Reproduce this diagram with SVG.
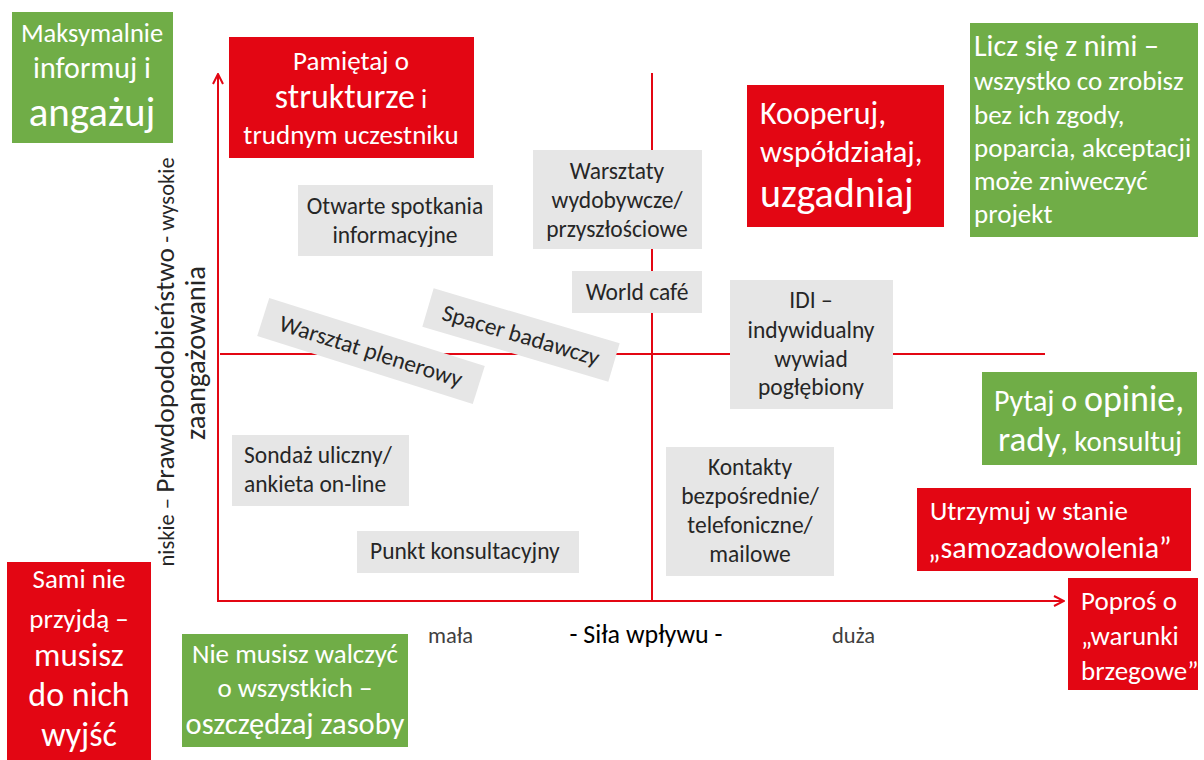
<svg xmlns="http://www.w3.org/2000/svg" width="1204" height="760" viewBox="0 0 1204 760">
<style>
text{font-family:Carlito,Lato,"Liberation Sans",sans-serif;}
.red{fill:#e30613;}
.green{fill:#70ad47;}
.gray{fill:#e6e6e6;}
.w{fill:#ffffff;font-size:27px;}
.d{fill:#262626;font-size:23.5px;}
.c{text-anchor:middle;}
.ax{stroke:#e30613;stroke-width:2;fill:none;}
.lbl{fill:#404040;font-size:22.5px;}
</style>
<defs>
<marker id="arr" viewBox="0 0 12 12" refX="11" refY="6" markerWidth="12" markerHeight="12" markerUnits="userSpaceOnUse" orient="auto">
<path d="M1,1 L11,6 L1,11" fill="none" stroke="#e30613" stroke-width="2"/>
</marker>
</defs>
<g id="connectors">
<line class="ax" x1="218" y1="601" x2="218" y2="74" marker-end="url(#arr)"/>
<line class="ax" x1="217" y1="601" x2="1064" y2="601" marker-end="url(#arr)"/>
<line class="ax" x1="652" y1="73" x2="652" y2="601"/>
<line class="ax" x1="220" y1="354" x2="1045" y2="354"/>
</g>
<g id="axis-labels">
<text class="lbl" x="428" y="643">mała</text>
<text x="646" y="643" class="c" style="font-size:26px;fill:#000">- Siła wpływu -</text>
<text class="lbl" x="832" y="643">duża</text>
<text transform="translate(174,362) rotate(-90)" class="c" style="fill:#262626;font-size:22.5px">niskie – <tspan style="font-size:27.5px">Prawdopodobieństwo</tspan> - wysokie</text>
<text transform="translate(205,353) rotate(-90)" class="c" style="fill:#262626;font-size:28.5px">zaangażowania</text>
</g>
<g id="n-maksymalnie">
<rect class="green" x="12" y="12" width="161" height="131"/>
<text class="w c" x="92" y="42" style="font-size:26.5px">Maksymalnie</text>
<text class="w c" x="92" y="78" style="font-size:30px">informuj i</text>
<text class="w c" x="92" y="126" style="font-size:41px">angażuj</text>
</g>
<g id="n-pamietaj">
<rect class="red" x="229" y="37" width="245" height="121"/>
<text class="w c" x="351" y="70">Pamiętaj o</text>
<text class="w c" x="351" y="108"><tspan style="font-size:34px">strukturze</tspan> i</text>
<text class="w c" x="351" y="144">trudnym uczestniku</text>
</g>
<g id="n-kooperuj">
<rect class="red" x="747" y="85" width="197" height="142"/>
<text class="w" x="760" y="124" style="font-size:32px">Kooperuj,</text>
<text class="w" x="760" y="162" style="font-size:31px">współdziałaj,</text>
<text class="w" x="760" y="207" style="font-size:40px">uzgadniaj</text>
</g>
<g id="n-licz">
<rect class="green" x="970" y="23" width="228" height="214"/>
<text class="w" x="974" y="56" style="font-size:30px">Licz się z nimi –</text>
<text class="w" x="974" y="90">wszystko co zrobisz</text>
<text class="w" x="974" y="124">bez ich zgody,</text>
<text class="w" x="974" y="157">poparcia, akceptacji</text>
<text class="w" x="974" y="190">może zniweczyć</text>
<text class="w" x="974" y="223">projekt</text>
</g>
<g id="n-warsztaty">
<rect class="gray" x="533" y="150" width="169" height="99"/>
<text class="d c" x="617" y="179">Warsztaty</text>
<text class="d c" x="617" y="208">wydobywcze/</text>
<text class="d c" x="617" y="237">przyszłościowe</text>
</g>
<g id="n-otwarte">
<rect class="gray" x="298" y="185" width="195" height="71"/>
<text class="d c" x="395" y="214">Otwarte spotkania</text>
<text class="d c" x="395" y="243">informacyjne</text>
</g>
<g id="n-world">
<rect class="gray" x="572" y="271" width="130" height="42"/>
<text class="d c" x="637" y="300">World café</text>
</g>
<g id="n-plenerowy" transform="translate(371,351) rotate(17.5)">
<rect class="gray" x="-113" y="-20" width="226" height="40"/>
<text class="d c" x="0" y="8">Warsztat plenerowy</text>
</g>
<g id="n-spacer" transform="translate(521,335) rotate(16.5)">
<rect class="gray" x="-97" y="-20" width="194" height="40"/>
<text class="d c" x="0" y="8">Spacer badawczy</text>
</g>
<g id="n-idi">
<rect class="gray" x="730" y="280" width="163" height="129"/>
<text class="d c" x="811" y="308">IDI –</text>
<text class="d c" x="811" y="338">indywidualny</text>
<text class="d c" x="811" y="367">wywiad</text>
<text class="d c" x="811" y="395">pogłębiony</text>
</g>
<g id="n-kontakty">
<rect class="gray" x="666" y="447" width="168" height="129"/>
<text class="d c" x="750" y="475">Kontakty</text>
<text class="d c" x="750" y="504">bezpośrednie/</text>
<text class="d c" x="750" y="533">telefoniczne/</text>
<text class="d c" x="750" y="562">mailowe</text>
</g>
<g id="n-sondaz">
<rect class="gray" x="232" y="435" width="177" height="71"/>
<text class="d" x="244" y="463">Sondaż uliczny/</text>
<text class="d" x="244" y="492">ankieta on-line</text>
</g>
<g id="n-punkt">
<rect class="gray" x="357" y="531" width="222" height="42"/>
<text class="d" x="370" y="559">Punkt konsultacyjny</text>
</g>
<g id="n-pytaj">
<rect class="green" x="982" y="372" width="215" height="93"/>
<text class="w c" x="1089" y="411" style="font-size:30px">Pytaj o <tspan style="font-size:36px">opinie,</tspan></text>
<text class="w c" x="1090" y="451" style="font-size:29px"><tspan style="font-size:35px">rady</tspan>, konsultuj</text>
</g>
<g id="n-utrzymuj">
<rect class="red" x="917" y="488" width="274" height="83"/>
<text class="w" x="930" y="520">Utrzymuj w stanie</text>
<text class="w" x="928" y="558" style="font-size:30px">„samozadowolenia”</text>
</g>
<g id="n-popros">
<rect class="red" x="1068" y="578" width="130" height="112"/>
<text class="w" x="1081" y="610">Poproś o</text>
<text class="w" x="1081" y="645">„warunki</text>
<text class="w" x="1081" y="680">brzegowe”</text>
</g>
<g id="n-sami">
<rect class="red" x="7" y="562" width="144" height="198"/>
<text class="w c" x="79" y="588">Sami nie</text>
<text class="w c" x="79" y="628">przyjdą –</text>
<text class="w c" x="79" y="666" style="font-size:33px">musisz</text>
<text class="w c" x="79" y="706" style="font-size:34px">do nich</text>
<text class="w c" x="79" y="746" style="font-size:34px">wyjść</text>
</g>
<g id="n-niemusisz">
<rect class="green" x="182" y="634" width="226" height="113"/>
<text class="w c" x="295" y="663">Nie musisz walczyć</text>
<text class="w c" x="295" y="697">o wszystkich –</text>
<text class="w c" x="295" y="734" style="font-size:30.5px">oszczędzaj zasoby</text>
</g>
</svg>
